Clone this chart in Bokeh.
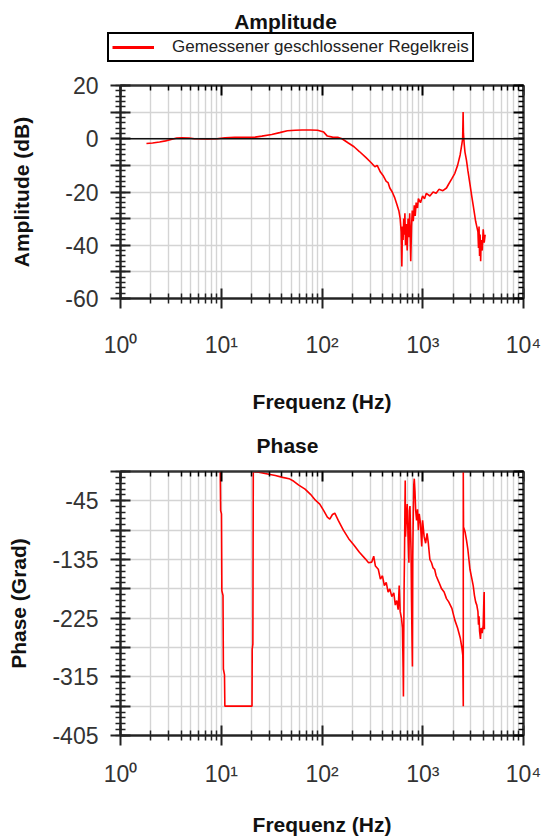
from bokeh.plotting import figure
from bokeh.models import (LogAxis, LinearAxis, FixedTicker, Span, Label, Legend,
                          LegendItem, Range1d, CustomJSTickFormatter)
from bokeh.layouts import column
from bokeh.embed import file_html
from bokeh.resources import INLINE

FONT = "Liberation Sans"

# ---------------- data ----------------
amp_freq = [1.81, 2.08, 2.44, 2.8, 3.17, 3.62, 4.07, 4.8, 5.43, 7.24, 9.05, 10.9, 13.6, 18.1,
            21.7, 25.3, 31.7, 38, 45.3, 54.3, 63.4, 76.9, 90.5, 104, 113, 127, 145, 158, 181,
            208, 235, 272, 308, 335, 353, 380, 407, 434, 453, 471, 498, 525, 552, 579, 597,
            611, 620, 629, 638, 647, 656, 665, 674, 688, 701, 715, 729, 742, 760, 774, 787,
            805, 824, 842, 860, 887, 905, 950, 996, 1041, 1086, 1177, 1267, 1358, 1448, 1584,
            1720, 1810, 1946, 2082, 2217, 2353, 2444, 2489, 2516, 2534, 2579, 2625, 2715,
            2806, 2941, 3077, 3168, 3258, 3349, 3439, 3530, 3575, 3620, 3665, 3711, 3756,
            3801, 3892, 3982, 4073, 4163]
amp_db = [-1.8, -1.6, -1.2, -0.8, -0.3, 0.3, 0.4, 0.3, 0.0, -0.1, 0.0, 0.4, 0.5, 0.5, 0.6, 1.0,
          1.6, 2.3, 3.0, 3.2, 3.3, 3.3, 3.2, 2.5, 1.0, 0.6, 0.5, 0.0, -1.5, -3.0, -4.8, -7.0,
          -9.0, -10.5, -10.0, -12.5, -14.0, -16.0, -16.5, -18.5, -20.0, -22.0, -24.5, -27.0,
          -30.0, -35.0, -48.0, -33.0, -38.0, -30.0, -36.0, -28.0, -40.0, -32.0, -42.0, -30.0,
          -37.0, -28.0, -46.0, -33.0, -27.0, -31.0, -25.0, -29.0, -24.0, -26.0, -22.5, -24.0,
          -21.5, -22.5, -20.5, -21.5, -20.0, -20.5, -19.0, -19.5, -18.5, -17.0, -15.0, -13.0,
          -10.0, -6.0, -2.0, 0.0, 10.0, 2.0, -2.0, -5.0, -8.0, -12.0, -17.0, -22.0, -25.0,
          -28.0, -31.0, -33.0, -35.0, -41.0, -33.0, -44.0, -36.0, -46.0, -38.0, -42.0, -34.0,
          -39.0, -36.0]

phase_freq = [9.77, 9.86, 10.05, 10.14, 10.41, 10.5, 10.77, 10.86, 20.2, 20.3, 20.6, 20.8,
              23.5, 27.2, 34.4, 40.7, 47.1, 52.5, 58.8, 67.9, 76.9, 86, 95, 104, 113, 119.5,
              127, 134, 145, 163, 184, 208, 235, 269, 290, 312, 326, 339, 362, 380, 398, 416,
              434, 453, 471, 493, 516, 534, 552, 570, 584, 597, 615, 629, 638, 643, 648, 653,
              659, 665, 670, 674, 688, 701, 715, 729, 738, 747, 756, 765, 774, 783, 790, 796,
              805, 815, 824, 837, 851, 869, 887, 905, 923, 950, 977, 996, 1032, 1068, 1104,
              1136, 1177, 1222, 1267, 1312, 1358, 1448, 1539, 1629, 1720, 1810, 1946, 2082,
              2217, 2353, 2444, 2498, 2525, 2525, 2539, 2625, 2715, 2806, 2941, 3077, 3168,
              3258, 3349, 3439, 3530, 3575, 3620, 3665, 3738, 3801, 3892, 3982, 4054, 4073,
              4091]
phase_deg = [0, -60, -65, -183, -190, -303, -312, -360, -360, -272, -265, 0, -1, -3,
             -6, -9, -11, -15, -21, -27, -35, -44, -50, -60, -70, -73, -66, -64, -75, -90, -103,
             -113, -124, -134, -140, -139, -130, -145, -150, -165, -160, -175, -170, -185, -180,
             -192, -186, -205, -198, -212, -175, -215, -225, -240, -300, -345, -250, -180, -130,
             -60, -14, -100, -70, -50, -100, -140, -60, -53, -90, -120, -200, -260, -299, -130,
             -70, -20, -11, -30, -60, -75, -58, -90, -65, -80, -115, -75, -100, -110, -95, -110,
             -135, -140, -148, -150, -160, -170, -180, -185, -195, -200, -210, -228, -240, -255,
             -270, -282, -360, 0, -85, -92, -105, -120, -150, -165, -175, -190, -200, -205,
             -215, -235, -222, -245, -257, -240, -248, -236, -190, -185, -242]

x_major = [1, 10, 100, 1000, 10000]
x_labels = ["10\u2070", "10\u00b9", "10\u00b2", "10\u00b3", "10\u2074"]
amp_major = list(range(-60, 21, 10))
amp_labelled = [-60, -40, -20, 0, 20]
phase_major = list(range(-405, 1, 45))
phase_labelled = [-405, -315, -225, -135, -45]
legend_label = "Gemessener geschlossener Regelkreis"

# ---------------- styling helpers ----------------
W = 543
x_minor = [m * d for d in [1, 10, 100, 1000] for m in range(2, 10)]
blank = CustomJSTickFormatter(code="return ''")
GRID = "#d4d4d4"


def header(height):
    h = figure(width=W, height=height, x_range=Range1d(0, 1), y_range=Range1d(0, 1),
               output_backend="svg", toolbar_location=None, x_axis_location=None,
               y_axis_location=None, min_border=0, min_border_left=0, min_border_right=0,
               min_border_top=0, min_border_bottom=0)
    h.frame_align = False
    h.grid.visible = False
    h.outline_line_color = None
    return h


def style_fig(p, y_major, y_minor, y_labelled, xlabel, ylabel, xl_standoff, yl_standoff,
              xt_standoff):
    xt = FixedTicker(ticks=x_major, minor_ticks=x_minor)
    yt = FixedTicker(ticks=y_major, minor_ticks=y_minor)
    p.xaxis.ticker = xt
    p.yaxis.ticker = yt
    p.xgrid.ticker = xt
    p.ygrid.ticker = yt
    p.xgrid.grid_line_color = GRID
    p.xgrid.grid_line_width = 1.4
    p.xgrid.minor_grid_line_color = GRID
    p.xgrid.minor_grid_line_width = 1.4
    p.ygrid.grid_line_color = GRID
    p.ygrid.grid_line_width = 1.4
    p.outline_line_color = "#333333"
    p.outline_line_width = 2
    p.background_fill_color = "white"
    p.border_fill_color = "white"

    p.xaxis.major_label_overrides = {v: l for v, l in zip(x_major, x_labels)}
    p.yaxis.major_label_overrides = {v: (str(v) if v in y_labelled else "") for v in y_major}

    for ax in (p.xaxis[0], p.yaxis[0]):
        ax.axis_line_color = "#222222"
        ax.axis_line_width = 2
        ax.major_tick_line_color = "#222222"
        ax.major_tick_line_width = 2
        ax.minor_tick_line_color = "#222222"
        ax.minor_tick_line_width = 1.5
        ax.major_tick_in = 10
        ax.major_tick_out = 10
        ax.minor_tick_in = 5
        ax.minor_tick_out = 5
        ax.major_label_text_font = FONT
        ax.major_label_text_font_size = "23px"
        ax.major_label_text_color = "#333333"
        ax.axis_label_text_font = FONT
        ax.axis_label_text_font_style = "bold"
        ax.axis_label_text_font_size = "21px"
        ax.axis_label_text_color = "#111111"
    p.xaxis.axis_label = xlabel
    p.yaxis.axis_label = ylabel
    p.xaxis.major_label_standoff = xt_standoff
    p.yaxis.major_label_standoff = 12
    p.xaxis.axis_label_standoff = xl_standoff
    p.yaxis.axis_label_standoff = yl_standoff

    common = dict(formatter=blank, major_tick_in=10, major_tick_out=0, minor_tick_in=5,
                  minor_tick_out=0, axis_line_color="#333333", axis_line_width=2,
                  major_tick_line_width=2, minor_tick_line_width=1.5,
                  major_label_standoff=0, major_label_text_font_size="1px")
    p.add_layout(LogAxis(ticker=xt, **common), "above")
    p.add_layout(LinearAxis(ticker=yt, **common), "right")


# ---------------- header with title + legend ----------------
h1 = header(70)
# the series is drawn here only to feed the legend; its values lie outside this header's range
leg_r = h1.line(amp_freq, amp_db, line_color="#ff0000", line_width=3)
h1.add_layout(Label(x=285, y=49, x_units="screen", y_units="screen", text="Amplitude",
                    text_font=FONT, text_font_style="bold", text_font_size="21px",
                    text_align="center", text_baseline="middle", text_color="#111111"))
legend = Legend(items=[LegendItem(label=legend_label, renderers=[leg_r])],
                location=(107, 8), orientation="vertical",
                label_text_font=FONT, label_text_font_size="17px", label_text_color="#222222",
                glyph_width=42, glyph_height=12, label_standoff=18, padding=3, margin=0,
                spacing=0, label_height=18, border_line_color="#000000",
                border_line_width=2, border_line_alpha=1.0, background_fill_color="white",
                background_fill_alpha=1.0)
h1.add_layout(legend)

# ---------------- amplitude ----------------
p1 = figure(width=W, height=345, x_axis_type="log", x_range=Range1d(1, 10000),
            y_range=Range1d(-60, 20), output_backend="svg", toolbar_location=None,
            min_border_left=120, min_border_right=20, min_border_top=15,
            min_border_bottom=112)
style_fig(p1, amp_major, list(range(-60, 21, 2)), amp_labelled,
          "Frequenz (Hz)", "Amplitude (dB)", 29, 29, 23)
p1.line(amp_freq, amp_db, line_color="#ff0000", line_width=1.6)
p1.add_layout(Span(location=0, dimension="width", line_color="#111111", line_width=1.6))

# ---------------- phase title ----------------
h2 = header(45)
h2.add_layout(Label(x=287, y=15, x_units="screen", y_units="screen", text="Phase",
                    text_font=FONT, text_font_style="bold", text_font_size="21px",
                    text_align="center", text_baseline="middle", text_color="#111111"))

# ---------------- phase ----------------
p2 = figure(width=W, height=378, x_axis_type="log", x_range=Range1d(1, 10000),
            y_range=Range1d(-405, 0), output_backend="svg", toolbar_location=None,
            min_border_left=120, min_border_right=20, min_border_top=11,
            min_border_bottom=103)
style_fig(p2, phase_major, list(range(-405, 1, 9)), phase_labelled,
          "Frequenz (Hz)", "Phase (Grad)", 23, 19, 15)
p2.line(phase_freq, phase_deg, line_color="#ff0000", line_width=1.6)

layout = column(h1, p1, h2, p2, spacing=0)
open("out.html", "w").write(file_html(layout, INLINE))
